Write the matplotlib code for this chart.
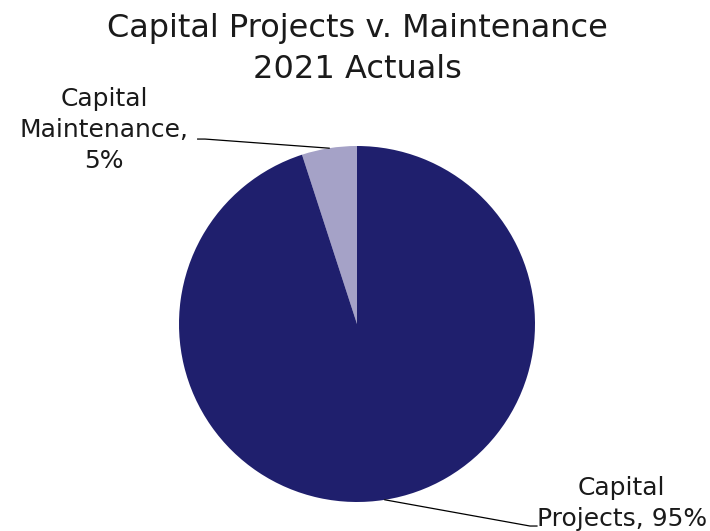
import numpy as np
import matplotlib
matplotlib.use('Agg')
import matplotlib.pyplot as plt

# ---------------------------------------------------------------------------
# Data
# ---------------------------------------------------------------------------
categories = ['Capital\nMaintenance,\n5%', 'Capital\nProjects, 95%']
shares = [5, 95]
colors = ['#a5a2c7', '#1f1f6d']

title = 'Capital Projects v. Maintenance\n2021 Actuals'

plt.rcParams['font.family'] = ['DejaVu Sans']

W, H = 710, 531
fig = plt.figure(figsize=(W / 100, H / 100), dpi=100)

cx, cy, r = 357, 324, 178
ax = fig.add_axes([(cx - r) / W, (H - cy - r) / H, 2 * r / W, 2 * r / H])
wedges, _ = ax.pie(shares, colors=colors, startangle=90, counterclock=True,
                   radius=1.0, wedgeprops=dict(linewidth=0))
ax.set_xlim(-1, 1)
ax.set_ylim(-1, 1)
ax.set_aspect('equal')
ax.axis('off')

# leader lines + labels
# (elbow point, line end, text centre) in data units relative to pie radius
label_pos = [
    ((-0.854, 1.039), (-0.895, 1.039), (-1.42, 1.09)),
    ((0.972, -1.135), (1.011, -1.135), (1.488, -1.007)),
]
for w, (elbow, end, txt) in zip(wedges, label_pos):
    ang = np.deg2rad((w.theta1 + w.theta2) / 2)
    x0, y0 = np.cos(ang), np.sin(ang)
    ax.plot([x0, elbow[0], end[0]], [y0, elbow[1], end[1]],
            color='black', lw=0.9, clip_on=False)

for lab, (_, _, txt) in zip(categories, label_pos):
    ax.text(txt[0], txt[1], lab, ha='center', va='center', fontsize=18,
            color='#1a1a1a', linespacing=1.35, clip_on=False)

fig.text(cx / W, 1 - 49 / H, title, ha='center', va='center',
         fontsize=23, color='#1a1a1a', linespacing=1.45)

fig.savefig('out.png', dpi=100, facecolor='white')
